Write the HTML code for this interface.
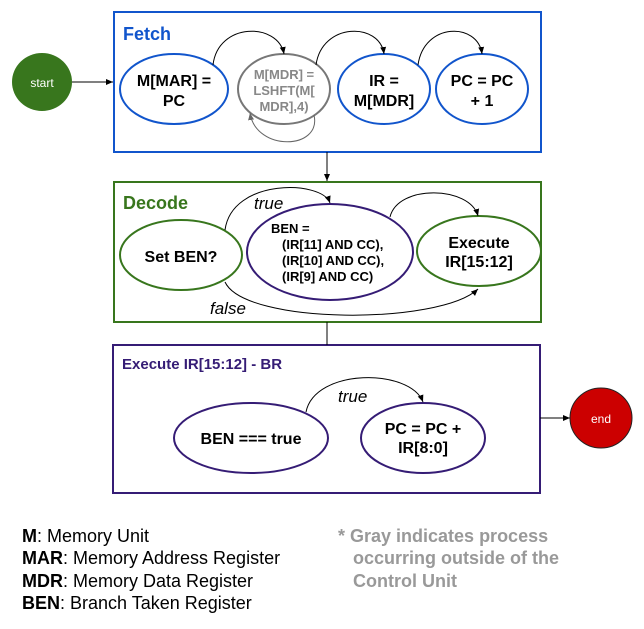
<!DOCTYPE html>
<html><head><style>
body{margin:0;background:#fff;width:644px;height:624px;overflow:hidden}
svg text{font-family:"Liberation Sans",Arial,sans-serif}
</style></head><body>
<svg width="644" height="624" viewBox="0 0 644 624" xmlns="http://www.w3.org/2000/svg">
<defs>
<marker id="a" markerWidth="8" markerHeight="8" refX="7" refY="4" orient="auto" markerUnits="userSpaceOnUse"><path d="M0,1 L7,4 L0,7z" fill="#000"/></marker>
<marker id="g" markerWidth="8" markerHeight="8" refX="7" refY="4" orient="auto" markerUnits="userSpaceOnUse"><path d="M0,1 L7,4 L0,7z" fill="#666"/></marker>
</defs>
<rect x="114" y="12" width="427" height="140" fill="none" stroke="#1155cc" stroke-width="2"/>
<rect x="114" y="182" width="427" height="140" fill="none" stroke="#38761d" stroke-width="2"/>
<rect x="113" y="345" width="427" height="148" fill="none" stroke="#351c75" stroke-width="2"/>
<text x="123" y="40" font-size="18" font-weight="bold" fill="#1155cc">Fetch</text>
<text x="123" y="209" font-size="18" font-weight="bold" fill="#38761d">Decode</text>
<text x="122" y="369" font-size="15" font-weight="bold" fill="#351c75">Execute IR[15:12] - BR</text>
<ellipse cx="42" cy="82" rx="30" ry="29" fill="#38761d"/>
<text x="42" y="87" font-size="12" fill="#fff" text-anchor="middle">start</text>
<line x1="72" y1="82" x2="113" y2="82" stroke="#000" marker-end="url(#a)"/>
<ellipse cx="174" cy="89" rx="54" ry="35" fill="#fff" stroke="#1155cc" stroke-width="2"/>
<text x="174" y="86" font-size="16" font-weight="bold" text-anchor="middle">M[MAR] =</text>
<text x="174" y="106" font-size="16" font-weight="bold" text-anchor="middle">PC</text>
<ellipse cx="284" cy="89" rx="46" ry="35" fill="#fff" stroke="#777" stroke-width="2"/>
<text x="284" y="79" font-size="13" font-weight="bold" fill="#888" text-anchor="middle">M[MDR] =</text>
<text x="284" y="95" font-size="13" font-weight="bold" fill="#888" text-anchor="middle">LSHFT(M[</text>
<text x="284" y="111" font-size="13" font-weight="bold" fill="#888" text-anchor="middle">MDR],4)</text>
<ellipse cx="384" cy="89" rx="46" ry="35" fill="#fff" stroke="#1155cc" stroke-width="2"/>
<text x="384" y="86" font-size="16" font-weight="bold" text-anchor="middle">IR =</text>
<text x="384" y="106" font-size="16" font-weight="bold" text-anchor="middle">M[MDR]</text>
<ellipse cx="482" cy="89" rx="46" ry="35" fill="#fff" stroke="#1155cc" stroke-width="2"/>
<text x="482" y="86" font-size="16" font-weight="bold" text-anchor="middle">PC = PC</text>
<text x="482" y="106" font-size="16" font-weight="bold" text-anchor="middle">+ 1</text>
<path d="M213,65 C218,22 278,22 284,54" fill="none" stroke="#000" marker-end="url(#a)"/>
<path d="M316,65 C322,22 380,22 384,54" fill="none" stroke="#000" marker-end="url(#a)"/>
<path d="M418,65 C424,22 478,22 482,54" fill="none" stroke="#000" marker-end="url(#a)"/>
<path d="M314,115 C322,150 256,152 250,113" fill="none" stroke="#666" marker-end="url(#g)"/>
<line x1="327" y1="152" x2="327" y2="181" stroke="#000" marker-end="url(#a)"/>
<ellipse cx="181" cy="255" rx="61" ry="35" fill="#fff" stroke="#38761d" stroke-width="2"/>
<text x="181" y="262" font-size="16" font-weight="bold" text-anchor="middle">Set BEN?</text>
<ellipse cx="330" cy="252" rx="83" ry="48" fill="#fff" stroke="#351c75" stroke-width="2"/>
<text x="271" y="233" font-size="13" font-weight="bold">BEN =</text>
<text x="282" y="249" font-size="13" font-weight="bold">(IR[11] AND CC),</text>
<text x="282" y="265" font-size="13" font-weight="bold">(IR[10] AND CC),</text>
<text x="282" y="281" font-size="13" font-weight="bold">(IR[9] AND CC)</text>
<ellipse cx="479" cy="251" rx="62" ry="35" fill="#fff" stroke="#38761d" stroke-width="2"/>
<text x="479" y="248" font-size="16" font-weight="bold" text-anchor="middle">Execute</text>
<text x="479" y="267" font-size="16" font-weight="bold" text-anchor="middle">IR[15:12]</text>
<path d="M225,230 C232,178 322,180 330,203" fill="none" stroke="#000" marker-end="url(#a)"/>
<text x="254" y="209" font-size="17" font-style="italic">true</text>
<path d="M390,217 C398,184 470,186 478,216" fill="none" stroke="#000" marker-end="url(#a)"/>
<path d="M225,282 C245,325 440,325 478,289" fill="none" stroke="#000" marker-end="url(#a)"/>
<text x="210" y="314" font-size="17" font-style="italic">false</text>
<line x1="327" y1="322" x2="327" y2="345" stroke="#000"/>
<ellipse cx="251" cy="438" rx="77" ry="35" fill="#fff" stroke="#351c75" stroke-width="2"/>
<text x="251" y="444" font-size="16" font-weight="bold" text-anchor="middle">BEN === true</text>
<ellipse cx="423" cy="438" rx="62" ry="35" fill="#fff" stroke="#351c75" stroke-width="2"/>
<text x="423" y="434" font-size="16" font-weight="bold" text-anchor="middle">PC = PC +</text>
<text x="423" y="453" font-size="16" font-weight="bold" text-anchor="middle">IR[8:0]</text>
<path d="M306,412 C315,368 410,368 423,402" fill="none" stroke="#000" marker-end="url(#a)"/>
<text x="338" y="402" font-size="17" font-style="italic">true</text>
<line x1="540" y1="418" x2="570" y2="418" stroke="#000" marker-end="url(#a)"/>
<ellipse cx="601" cy="418" rx="31" ry="30" fill="#cc0000" stroke="#222"/>
<text x="601" y="423" font-size="12" fill="#fff" text-anchor="middle">end</text>
<g font-size="18">
<text x="22" y="542"><tspan font-weight="bold">M</tspan>: Memory Unit</text>
<text x="22" y="564"><tspan font-weight="bold">MAR</tspan>: Memory Address Register</text>
<text x="22" y="587"><tspan font-weight="bold">MDR</tspan>: Memory Data Register</text>
<text x="22" y="609"><tspan font-weight="bold">BEN</tspan>: Branch Taken Register</text>
</g>
<g font-size="18" font-weight="bold" fill="#999">
<text x="338" y="542">* Gray indicates process</text>
<text x="353" y="564">occurring outside of the</text>
<text x="353" y="587">Control Unit</text>
</g>
</svg>
</body></html>
